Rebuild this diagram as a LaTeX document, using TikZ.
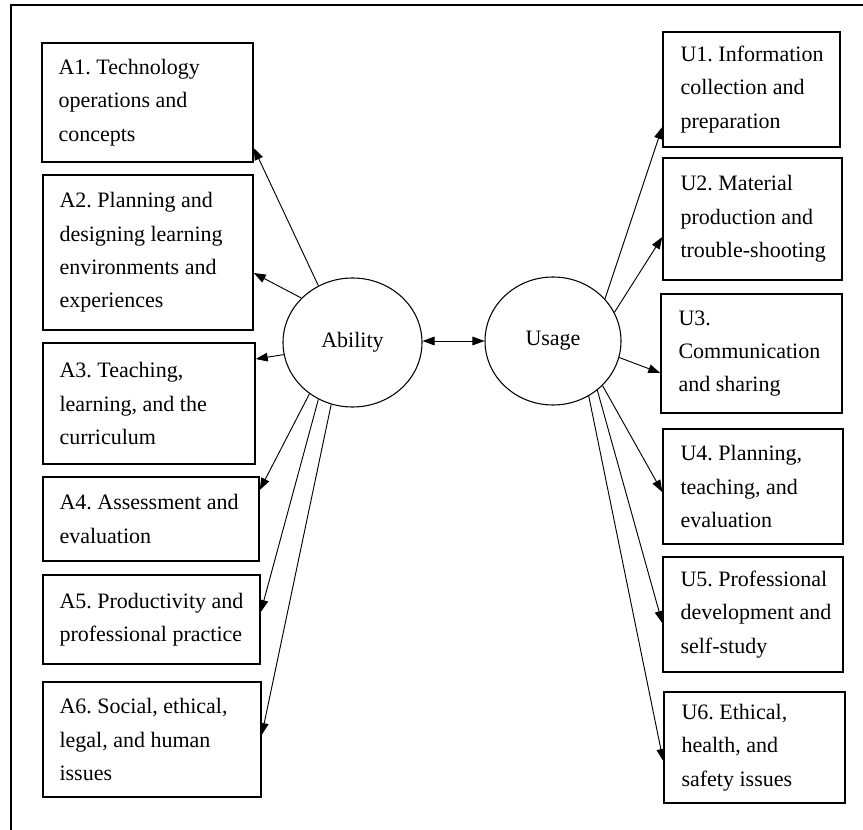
\documentclass[tikz,border=0pt]{standalone}
\usepackage{fontspec}
\setmainfont{Liberation Serif}
\usetikzlibrary{arrows.meta,shapes.geometric}
\frenchspacing
\begin{document}
\begin{tikzpicture}[x=0.75pt,y=-0.75pt,
  bx/.style 2 args={draw,line width=1.1pt,inner sep=0pt,minimum width=#1*0.75pt,minimum height=#2*0.75pt},
  lbl/.style={anchor=west,inner sep=0pt,align=left,font=\fontsize{16.5}{25}\selectfont},
  latent/.style 2 args={draw,ellipse,line width=0.8pt,inner sep=0pt,minimum width=#1*0.75pt,minimum height=#2*0.75pt,font=\fontsize{16.5}{20}\selectfont},
  arr/.style={line width=0.7pt,-{Triangle[length=9pt,width=6.5pt]}},
  darr/.style={line width=0.7pt,{Triangle[length=9pt,width=6.5pt]}-{Triangle[length=9pt,width=6.5pt]}},
  frame/.style={line width=1pt}]
\useasboundingbox (0,0) rectangle (863,830);
% outer frame (top and left edges)
\coordinate (fTL) at (11,5);
\coordinate (fTR) at (863,5);
\coordinate (fBL) at (11,830);
\draw[frame] (fBL) -- (fTL) -- (fTR);
% left boxes
\node[bx={211}{119}] (A1) at (147.5,102.5) {};
\node[bx={210}{155}] (A2) at (148,252.5) {};
\node[bx={212}{121}] (A3) at (149,403.5) {};
\node[bx={216}{84}]  (A4) at (151,519) {};
\node[bx={217}{89}]  (A5) at (151.5,619.5) {};
\node[bx={218}{115}] (A6) at (152,739.5) {};
% right boxes
\node[bx={177}{115}] (U1) at (751.5,89.5) {};
\node[bx={179}{122}] (U2) at (752.5,219) {};
\node[bx={181}{119}] (U3) at (751.5,353.5) {};
\node[bx={180}{115}] (U4) at (753,486.5) {};
\node[bx={180}{115}] (U5) at (753,614.5) {};
\node[bx={181}{111}] (U6) at (754.5,747.5) {};
% labels
\node[lbl] (tA1) at ([xshift=12.75pt]A1.west) {A1. Technology\\operations and\\concepts};
\node[lbl] (tA2) at ([xshift=12.75pt]A2.west) {A2. Planning and\\designing learning\\environments and\\experiences};
\node[lbl] (tA3) at ([xshift=12.75pt]A3.west) {A3. Teaching,\\learning, and the\\curriculum};
\node[lbl] (tA4) at ([xshift=12.75pt]A4.west) {A4. Assessment and\\evaluation};
\node[lbl] (tA5) at ([xshift=12.75pt]A5.west) {A5. Productivity and\\professional practice};
\node[lbl] (tA6) at ([xshift=12.75pt]A6.west) {A6. Social, ethical,\\legal, and human\\issues};
\node[lbl] (tU1) at ([xshift=13.5pt]U1.west) {U1. Information\\collection and\\preparation};
\node[lbl] (tU2) at ([xshift=13.5pt]U2.west) {U2. Material\\production and\\trouble-shooting};
\node[lbl] (tU3) at ([xshift=13.5pt]U3.west) {U3.\\Communication\\and sharing};
\node[lbl] (tU4) at ([xshift=13.5pt]U4.west) {U4. Planning,\\teaching, and\\evaluation};
\node[lbl] (tU5) at ([xshift=13.5pt]U5.west) {U5. Professional\\development and\\self-study};
\node[lbl] (tU6) at ([xshift=13.5pt]U6.west) {U6. Ethical,\\health, and\\safety issues};
% latent variables
\node[latent={139}{129}] (Ability) at (352.5,342.5) {Ability};
\node[latent={136}{128}] (Usage) at (553,341) {Usage};
% connectors
\draw[darr] (Ability.east |- 0,341) -- (Usage.west |- 0,341);
\draw[arr] (Ability.121.7) -- (A1.east |- 0,148);
\draw[arr] (Ability.139.8) -- (A2.east |- 0,273);
\draw[arr] (Ability.190.5) -- (A3.east |- 0,359);
\draw[arr] (Ability.230.8) -- (A4.east |- 0,490);
\draw[arr] (Ability.239.8) -- (A5.east |- 0,612);
\draw[arr] (Ability.251.8) -- (A6.east |- 0,735);
\draw[arr] (Usage.39.6) -- (U1.west |- 0,127);
\draw[arr] (Usage.25.8) -- (U2.west |- 0,237);
\draw[arr] (Usage.-14.4) -- (U3.west |- 0,373);
\draw[arr] (Usage.-42.6) -- (U4.west |- 0,492);
\draw[arr] (Usage.-48.1) -- (U5.west |- 0,623);
\draw[arr] (Usage.-57) -- (U6.west |- 0,761);
\end{tikzpicture}
\end{document}
